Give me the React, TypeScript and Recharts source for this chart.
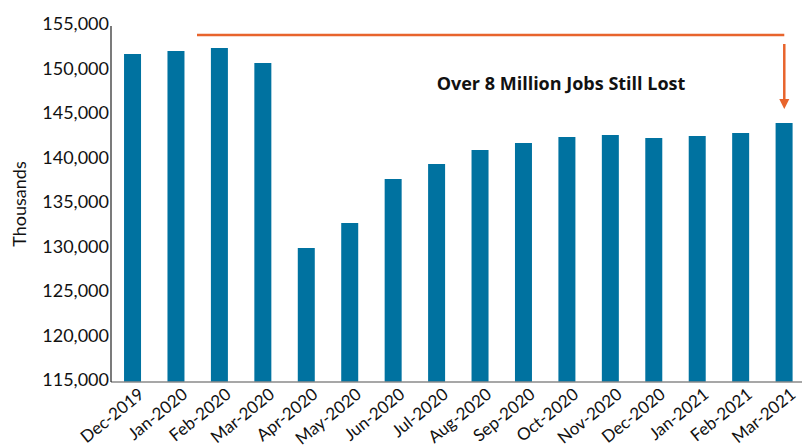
import { Bar, BarChart, ReferenceDot, ReferenceLine, XAxis, YAxis } from "recharts"

const months = [
  "Dec-2019", "Jan-2020", "Feb-2020", "Mar-2020", "Apr-2020", "May-2020", "Jun-2020", "Jul-2020",
  "Aug-2020", "Sep-2020", "Oct-2020", "Nov-2020", "Dec-2020", "Jan-2021", "Feb-2021", "Mar-2021",
]
const jobs = [
  151850, 152190, 152530, 150840, 130060, 132870, 137810, 139490,
  141070, 141850, 142530, 142750, 142420, 142640, 142980, 144100,
]
const yTicks = [115000, 120000, 125000, 130000, 135000, 140000, 145000, 150000, 155000]

const note = "Over 8 Million Jobs Still Lost"
const orange = "#e8642c"

// pos = centre of each month's band on a 0..16 scale, used to place the annotation
const data = months.map((month, i) => ({ month, jobs: jobs[i], pos: i + 0.5 }))

function MonthTick({ x, y, payload }: any) {
  return (
    <g transform={`translate(${x + 5},${y - 3})`}>
      <text
        x={0}
        y={0}
        dy={12}
        textAnchor="end"
        transform="rotate(-39)"
        fill="#111"
        fontSize={17}
        fontFamily="Lato, sans-serif"
      >
        {payload.value}
      </text>
    </g>
  )
}

function ArrowHead({ cx, cy }: any) {
  return <polygon points={`${cx - 5},${cy - 10} ${cx + 5},${cy - 10} ${cx},${cy}`} fill={orange} />
}

export default function App() {
  return (
    <div style={{ position: "absolute", left: 0, top: 0, width: 802, height: 448, overflow: "hidden", background: "#fff" }}>
      <BarChart width={806} height={448} data={data} margin={{ top: 26, right: 0, left: 0, bottom: 0 }} barCategoryGap="30%">
        <XAxis
          dataKey="month"
          interval={0}
          height={66}
          tickLine={false}
          axisLine={{ stroke: "#8a8a8a", strokeWidth: 1.5 }}
          tick={<MonthTick />}
        />
        <XAxis xAxisId="ann" dataKey="pos" type="number" domain={[0, 16]} allowDataOverflow hide />
        <YAxis
          width={111}
          domain={[115000, 155000]}
          ticks={yTicks}
          allowDataOverflow
          tickLine={false}
          tickSize={0}
          tickMargin={2}
          axisLine={{ stroke: "#222", strokeWidth: 1.2 }}
          tickFormatter={(v) => Number(v).toLocaleString("en-US")}
          tick={{ fill: "#111", fontSize: 18, fontFamily: "Lato, sans-serif", dy: -2 }}
          label={{
            value: "Thousands",
            angle: -90,
            position: "insideLeft",
            offset: 20,
            style: { textAnchor: "middle", fill: "#111", fontSize: 18, fontFamily: "Lato, sans-serif" },
          }}
        />
        <Bar dataKey="jobs" fill="#0072a0" isAnimationActive={false} />
        <ReferenceLine
          xAxisId="ann"
          segment={[{ x: 1.98, y: 154000 }, { x: 15.5, y: 154000 }]}
          stroke={orange}
          strokeWidth={2.5}
          ifOverflow="visible"
        />
        <ReferenceLine
          xAxisId="ann"
          segment={[{ x: 15.5, y: 152980 }, { x: 15.5, y: 146600 }]}
          stroke={orange}
          strokeWidth={2.5}
          ifOverflow="visible"
        />
        <ReferenceDot
          xAxisId="ann"
          x={15.5}
          y={145670}
          ifOverflow="visible"
          shape={<ArrowHead />}
        />
        <ReferenceDot
          xAxisId="ann"
          x={10.36}
          y={148480}
          r={0}
          fill="none"
          stroke="none"
          ifOverflow="visible"
          label={{
            value: note,
            position: "center",
            fill: "#111",
            fontSize: 18,
            fontWeight: 700,
            fontFamily: "'Open Sans', sans-serif",
          }}
        />
      </BarChart>
    </div>
  )
}
